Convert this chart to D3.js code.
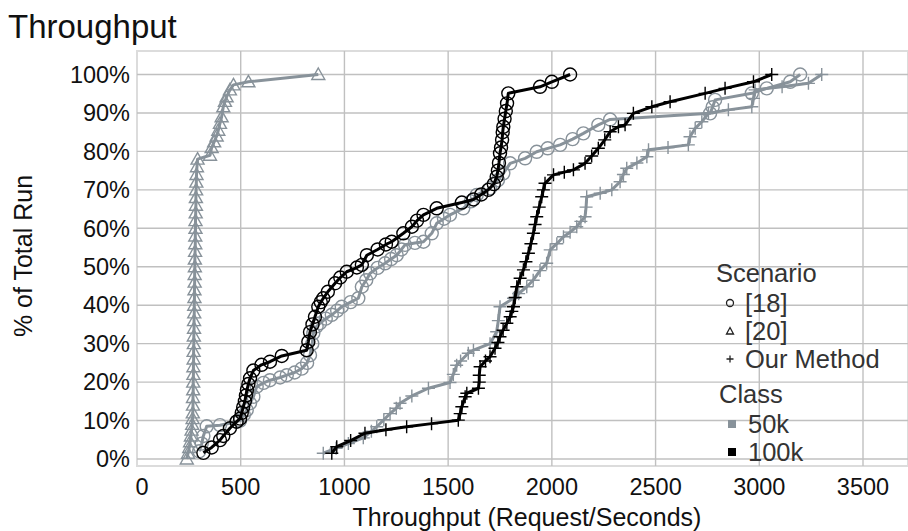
<!DOCTYPE html>
<html>
<head>
<meta charset="utf-8">
<script src="https://cdn.jsdelivr.net/npm/d3@7"></script>
<style>
  body { margin: 0; background: #fff; }
  svg text { font-family: "Liberation Sans", Arial, sans-serif; }
</style>
</head>
<body>
<div id="vis"></div>
<script>
// CDF points: [throughput, % of total run]
var circle50k = [[300,2],[312,4],[320,6],[336,8.5],[400,8.8],[481,9.7],[497,10],[515,11.5],[529,12.7],[545,14.5],[561,16.2],[577,18.8],[610,19.8],[641,20.5],[690,21.2],[722,21.8],[760,22.5],[794,23.5],[820,25],[834,27],[845,30],[850,32.7],[866,34.5],[882,35.3],[910,36.5],[939,37.5],[965,38.6],[987,39.6],[1030,40.8],[1067,41.8],[1084,44.8],[1105,46.5],[1124,48.3],[1160,49.7],[1196,50.9],[1225,52],[1252,53],[1275,54.5],[1292,55.7],[1340,56.2],[1381,56.5],[1421,58.7],[1445,61.3],[1480,62.5],[1509,63.5],[1573,65.2],[1610,67],[1638,68.7],[1702,70.4],[1740,72.5],[1766,74.3],[1799,76.9],[1871,78.2],[1927,79.9],[1980,80.8],[2040,81.7],[2100,83.2],[2152,84.7],[2224,86.9],[2281,88.3],[2763,89.9],[2775,91.5],[2787,93.4],[2964,95.1],[3036,96.4],[3149,98.1],[3197,100]];
var circle100k = [[320,1.6],[360,3],[400,4.9],[416,6],[448,8],[480,9.7],[497,10.5],[505,12],[512,13.5],[520,15],[525,16.5],[530,18],[537,19.5],[545,21],[561,23],[600,24.5],[641,25.3],[698,26.8],[818,28.3],[826,30.5],[834,33],[846,35],[858,37],[874,39.6],[886,40.8],[898,41.8],[920,43.5],[955,45.7],[980,47.2],[1011,48.7],[1060,49.8],[1084,50.5],[1108,53],[1160,54.5],[1200,55.8],[1228,56.5],[1284,58.7],[1325,60.4],[1350,62],[1381,63.5],[1445,65.2],[1566,66.7],[1622,67.5],[1660,68.8],[1694,70],[1720,71.5],[1734,73.4],[1740,75],[1745,77],[1750,79.5],[1755,81],[1760,83],[1763,85],[1766,86.4],[1772,88.5],[1778,90.5],[1784,92.5],[1790,95.1],[1943,96.8],[2000,98.1],[2088,100]];
var triangle50k = [[240,0],[246,1.5],[252,3],[256,4.5],[260,6],[263,7.5],[266,9],[268,10.5],[269,12],[270,14],[270,16],[271,18],[271,20],[272,22],[272,24],[273,26],[273,28],[274,30],[274,32],[275,34],[275,36],[276,38],[276,40],[277,42],[277,44],[278,46],[278,48],[279,50],[279,52],[280,54],[281,56],[281,58],[282,60],[282,62],[283,64],[284,66],[284,68],[285,70],[286,72],[287,74],[289,76],[292,78],[352,79],[360,81],[372,82.5],[384,84],[392,85.5],[400,87.3],[408,89],[416,91.6],[424,93],[432,94.2],[448,96],[465,97.3],[537,98.1],[874,100]];
var plus50k = [[898,1.5],[960,2.8],[1019,4],[1091,5.5],[1130,7.2],[1156,8.4],[1190,10.2],[1220,11.8],[1250,13.2],[1268,14.5],[1325,16.4],[1405,18.4],[1509,19.9],[1525,22],[1541,24.4],[1560,25.5],[1597,27.5],[1622,28.3],[1702,30],[1734,33.1],[1742,36],[1750,39.6],[1815,41.8],[1840,43],[1879,44.8],[1910,46.5],[1943,49],[1975,50.9],[1992,54.4],[2024,56],[2056,57.8],[2088,59],[2120,60.4],[2140,61.8],[2160,63],[2165,65.5],[2168,68.2],[2233,69.1],[2289,70],[2329,72.1],[2345,74],[2361,75.6],[2410,77],[2458,78.6],[2466,80.4],[2560,81],[2658,81.7],[2666,83.8],[2691,86],[2723,87.7],[2755,89.9],[2851,90.8],[2964,91.6],[2972,93.8],[2980,96],[3110,96.8],[3237,97.7],[3301,100]];
var plus100k = [[939,1.5],[963,3.2],[1030,4.8],[1099,6.7],[1200,7.6],[1300,8.4],[1420,9.2],[1549,10.1],[1558,11.8],[1566,13.6],[1582,16.2],[1590,17.1],[1646,18.4],[1650,20],[1650,21.8],[1654,24],[1680,25.5],[1702,26.6],[1726,28.8],[1740,30.3],[1750,31.8],[1765,33.5],[1783,35.3],[1799,37],[1807,38.4],[1815,39.6],[1823,42],[1831,44.8],[1847,47],[1863,49.2],[1875,51.3],[1887,53.5],[1899,56],[1911,58.7],[1919,61],[1927,63],[1939,65.5],[1951,68.2],[1959,70],[1967,71.7],[2008,73.9],[2060,74.6],[2104,75.2],[2160,76.9],[2192,78.8],[2224,80.8],[2255,83],[2281,85.1],[2321,86.4],[2353,86.9],[2393,89.9],[2482,91.6],[2570,92.9],[2739,95.1],[2835,96.4],[2972,98.1],[3060,100]];

var xTicks = [0, 500, 1000, 1500, 2000, 2500, 3000, 3500];
var yTicks = [0, 10, 20, 30, 40, 50, 60, 70, 80, 90, 100];
var scenarios = ['[18]', '[20]', 'Our Method'];
var classes = ['50k', '100k'];

var width = 908, height = 531;
var gray = '#88929a', black = '#000';

var svg = d3.select('#vis').append('svg')
  .attr('width', width)
  .attr('height', height);

var plotL = 137, plotT = 51, plotR = 908, plotB = 466;

var x = d3.scaleLinear().domain([0, 3500]).range([137, 863]);
var y = d3.scaleLinear().domain([0, 100]).range([459, 74.5]);

// plot frame
svg.append('rect')
  .attr('x', plotL).attr('y', plotT)
  .attr('width', plotR - plotL).attr('height', plotB - plotT)
  .attr('fill', 'none')
  .attr('stroke', '#dcdcdc')
  .attr('stroke-width', 2);

// grid
svg.append('g').selectAll('line')
  .data(xTicks.slice(1))
  .enter().append('line')
  .attr('x1', function(d) { return x(d); })
  .attr('x2', function(d) { return x(d); })
  .attr('y1', plotT).attr('y2', plotB)
  .attr('stroke', '#c0c0c0').attr('stroke-width', 1.4);

svg.append('g').selectAll('line')
  .data(yTicks)
  .enter().append('line')
  .attr('x1', plotL).attr('x2', plotR)
  .attr('y1', function(d) { return y(d); })
  .attr('y2', function(d) { return y(d); })
  .attr('stroke', '#c0c0c0').attr('stroke-width', 1.4);

// tick labels
svg.append('g').selectAll('text')
  .data(xTicks)
  .enter().append('text')
  .attr('x', function(d) { return x(d) + (d === 0 ? 5 : 0); })
  .attr('y', 495)
  .attr('text-anchor', 'middle')
  .attr('font-size', 23.5)
  .attr('fill', '#111')
  .text(function(d) { return d; });

svg.append('g').selectAll('text')
  .data(yTicks)
  .enter().append('text')
  .attr('x', 130)
  .attr('y', function(d) { return y(d); })
  .attr('dy', '0.35em')
  .attr('text-anchor', 'end')
  .attr('font-size', 23.5)
  .attr('fill', '#111')
  .text(function(d) { return d + '%'; });

// titles
svg.append('text')
  .attr('x', 8).attr('y', 38)
  .attr('font-size', 33)
  .attr('fill', '#111')
  .text('Throughput');

svg.append('text')
  .attr('x', 527).attr('y', 526)
  .attr('text-anchor', 'middle')
  .attr('font-size', 25)
  .attr('fill', '#111')
  .text('Throughput (Request/Seconds)');

svg.append('text')
  .attr('transform', 'translate(32,256) rotate(-90)')
  .attr('text-anchor', 'middle')
  .attr('font-size', 25)
  .attr('fill', '#111')
  .text('% of Total Run');

// marker shapes
var symbols = {
  circle: function(s) {
    s.append('circle').attr('r', 6.5);
  },
  triangle: function(s) {
    s.append('path').attr('d', 'M0,-6.5L6.5,5L-6.5,5Z');
  },
  plus: function(s) {
    s.append('path').attr('d', 'M-6.5,0H6.5M0,-6.5V6.5');
  }
};

var line = d3.line()
  .x(function(d) { return x(d[0]); })
  .y(function(d) { return y(d[1]); });

var series = [
  { data: circle50k, color: gray, shape: 'circle' },
  { data: triangle50k, color: gray, shape: 'triangle' },
  { data: plus50k, color: gray, shape: 'plus' },
  { data: circle100k, color: black, shape: 'circle' },
  { data: plus100k, color: black, shape: 'plus' }
];

series.forEach(function(s) {
  var g = svg.append('g');
  g.append('path')
    .datum(s.data)
    .attr('d', line)
    .attr('fill', 'none')
    .attr('stroke', s.color)
    .attr('stroke-width', 3)
    .attr('stroke-linejoin', 'round');

  g.selectAll('.pt')
    .data(s.data)
    .enter().append('g')
    .attr('class', 'pt')
    .attr('transform', function(d) { return 'translate(' + x(d[0]) + ',' + y(d[1]) + ')'; })
    .attr('fill', 'none')
    .attr('stroke', s.color)
    .attr('stroke-width', 1.4)
    .call(symbols[s.shape]);
});

// legend
var legend = svg.append('g').attr('font-size', 25.5).attr('fill', '#333');

legend.append('text').attr('x', 716).attr('y', 282).text('Scenario');

var legendShapes = ['circle', 'triangle', 'plus'];
var legendY = [303, 331, 359];
scenarios.forEach(function(name, i) {
  var row = legend.append('g').attr('transform', 'translate(730,' + legendY[i] + ')');
  var mk = row.append('g').attr('fill', 'none').attr('stroke', '#222').attr('stroke-width', 1.3);
  if (legendShapes[i] === 'circle') mk.append('circle').attr('r', 3.5);
  if (legendShapes[i] === 'triangle') mk.append('path').attr('d', 'M0,-3.5L3.5,3L-3.5,3Z');
  if (legendShapes[i] === 'plus') mk.append('path').attr('d', 'M-3.5,0H3.5M0,-3.5V3.5');
  row.append('text').attr('x', 15).attr('dy', '0.36em').text(name);
});

legend.append('text').attr('x', 719).attr('y', 403).text('Class');

var classColors = [gray, black];
var classY = [424, 452];
classes.forEach(function(name, i) {
  var row = legend.append('g').attr('transform', 'translate(732,' + classY[i] + ')');
  row.append('rect').attr('x', -4).attr('y', -4).attr('width', 8).attr('height', 8)
    .attr('fill', classColors[i]);
  row.append('text').attr('x', 16).attr('dy', '0.36em').text(name);
});
</script>
</body>
</html>
